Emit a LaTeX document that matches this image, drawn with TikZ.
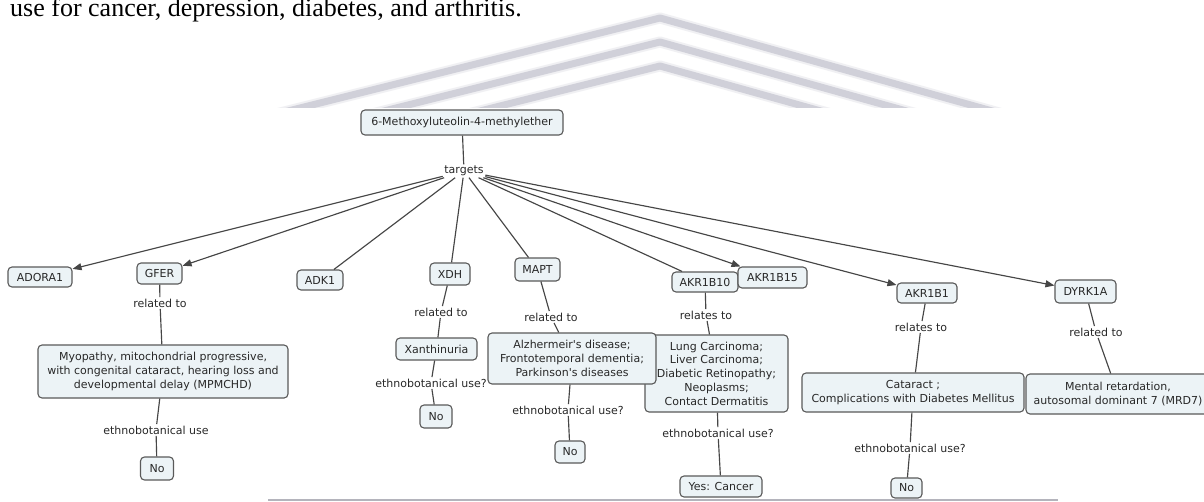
\documentclass[tikz,border=0pt]{standalone}
\usepackage{fontspec}
\newfontfamily\mapfont{DejaVu Sans}
\newfontfamily\pagefont{Liberation Serif}
\usetikzlibrary{arrows.meta}
\definecolor{boxfill}{RGB}{236,243,246}
\definecolor{boxline}{RGB}{90,90,90}
\definecolor{linkline}{RGB}{70,70,70}
\definecolor{maptext}{RGB}{40,40,40}
\definecolor{markgray}{RGB}{208,208,217}
\definecolor{rulegray}{RGB}{180,180,188}

\begin{document}
\begin{tikzpicture}[x=1pt,y=-1pt,
  concept/.style={draw=boxline, fill=boxfill, line width=1.1pt, rounded corners=4pt,
    inner sep=1pt, align=center, text=maptext, font=\mapfont\fontsize{11}{13.8}\selectfont},
  linklabel/.style={inner sep=1.5pt, text=maptext, font=\mapfont\fontsize{11}{13}\selectfont},
  link/.style={draw=linkline, line width=1.15pt},
  arrowlink/.style={link, -{Triangle[length=9pt,width=7pt]}},
  stripe/.style={markgray, line width=7pt, line join=round},
  stripehalo/.style={markgray, line width=11pt, line join=round, opacity=0.3},
]
\useasboundingbox (0,0) rectangle (1204,501);
\fill[white] (0,0) rectangle (1204,501);

% running text of the page above the figure
\node[anchor=base west, inner sep=0pt, text=black,
  font=\pagefont\fontsize{26}{30}\selectfont] (pageline) at (10,16)
  {use for cancer, depression, diabetes, and arthritis.};

% faint chevron mark behind the figure
\begin{scope}
  \clip (0,0) rectangle (1204,107.5);
  \foreach \dy in {0,24,48} {
    \draw[stripehalo] (240,{123+\dy}) -- (660,{18+\dy}) -- (1080,{135.6+\dy});
    \draw[stripe] (240,{123+\dy}) -- (660,{18+\dy}) -- (1080,{135.6+\dy});
  }
\end{scope}

% rule under the figure
\draw[rulegray, line width=2pt] (268,499.5) -- (1058,499.5);

% compound and its targets
\node[concept, minimum width=202pt, minimum height=25pt] (root) at (462,122.5) {6-Methoxyluteolin-4-methylether};
\node[linklabel] (targets) at (464,171) {targets};

\node[concept, minimum width=64pt, minimum height=20pt] (adora) at (40,277) {ADORA1};
\node[concept, minimum width=45pt, minimum height=21pt] (gfer) at (159.5,273.5) {GFER};
\node[concept, minimum width=46pt, minimum height=20pt] (adk) at (320,280) {ADK1};
\node[concept, minimum width=40pt, minimum height=22pt] (xdh) at (450,274) {XDH};
\node[concept, minimum width=45pt, minimum height=23pt] (mapt) at (537.5,269.5) {MAPT};
\node[concept, minimum width=66pt, minimum height=20pt] (akrten) at (705,282) {AKR1B10};
\node[concept, minimum width=69pt, minimum height=21pt] (akrfifteen) at (772.5,277.5) {AKR1B15};
\node[concept, minimum width=60pt, minimum height=20pt] (akrone) at (927,293) {AKR1B1};
\node[concept, minimum width=61pt, minimum height=23pt] (dyrk) at (1085.5,291.5) {DYRK1A};

% GFER branch
\node[linklabel] (relgfer) at (160,303) {related to};
\node[concept, minimum width=250pt, minimum height=53pt] (myo) at (163,371.5)
  {Myopathy, mitochondrial progressive,\\ with congenital cataract, hearing loss and\\ developmental delay (MPMCHD)};
\node[linklabel] (ethgfer) at (156,430) {ethnobotanical use};
\node[concept, minimum width=33pt, minimum height=23pt] (nogfer) at (157,468.5) {No};

% XDH branch
\node[linklabel] (relxdh) at (441,312) {related to};
\node[concept, minimum width=81pt, minimum height=22pt] (xan) at (436.5,349) {Xanthinuria};
\node[linklabel] (ethxdh) at (431,383) {ethnobotanical use?};
\node[concept, minimum width=32pt, minimum height=23pt] (noxdh) at (436,416.5) {No};

% AKR1B10 branch (drawn before the MAPT disease box, which overlaps it)
\node[linklabel] (relakr) at (706,315) {relates to};
\node[concept, minimum width=143pt, minimum height=77pt] (lung) at (716.5,373.5)
  {Lung Carcinoma;\\ Liver Carcinoma;\\ Diabetic Retinopathy;\\ Neoplasms;\\ Contact Dermatitis};
\node[linklabel] (ethakr) at (718,433) {ethnobotanical use?};
\node[concept, minimum width=82pt, minimum height=21pt] (yes) at (721,486.5) {Yes: Cancer};

% MAPT branch
\node[linklabel] (relmapt) at (551,317) {related to};
\node[concept, minimum width=168pt, minimum height=51pt] (alz) at (572,358.5)
  {Alzhermeir's disease;\\ Frontotemporal dementia;\\ Parkinson's diseases};
\node[linklabel] (ethmapt) at (568,410) {ethnobotanical use?};
\node[concept, minimum width=30pt, minimum height=22pt] (nomapt) at (570,452) {No};

% AKR1B1 branch
\node[linklabel] (relakrone) at (921,327) {relates to};
\node[concept, minimum width=222pt, minimum height=39pt] (cat) at (913,392.5)
  {Cataract ;\\ Complications with Diabetes Mellitus};
\node[linklabel] (ethakrone) at (910,448) {ethnobotanical use?};
\node[concept, minimum width=31pt, minimum height=20pt] (noakrone) at (906.5,488) {No};

% DYRK1A branch
\node[linklabel] (reldyrk) at (1096,332) {related to};
\node[concept, minimum width=184pt, minimum height=40pt] (mental) at (1118,394)
  {Mental retardation,\\ autosomal dominant 7 (MRD7)};

% connectors
\draw[link] (root) -- (targets);
\draw[arrowlink] (targets) -- (adora);
\draw[arrowlink] (targets) -- (gfer);
\draw[link] (targets) -- (adk);
\draw[link] (targets) -- (xdh);
\draw[link] (targets) -- (mapt);
\draw[link] (targets) -- (akrten);
\draw[arrowlink] (targets) -- (akrfifteen);
\draw[arrowlink] (targets) -- (akrone);
\draw[arrowlink] (targets) -- (dyrk);

\draw[link] (gfer) -- (relgfer);
\draw[link] (relgfer) -- (myo);
\draw[link] (myo) -- (ethgfer);
\draw[link] (ethgfer) -- (nogfer);

\draw[link] (xdh) -- (relxdh);
\draw[link] (relxdh) -- (xan);
\draw[link] (xan) -- (ethxdh);
\draw[link] (ethxdh) -- (noxdh);

\draw[link] (mapt) -- (relmapt);
\draw[link] (relmapt) -- (alz);
\draw[link] (alz) -- (ethmapt);
\draw[link] (ethmapt) -- (nomapt);

\draw[link] (akrten) -- (relakr);
\draw[link] (relakr) -- (lung);
\draw[link] (lung) -- (ethakr);
\draw[link] (ethakr) -- (yes);

\draw[link] (akrone) -- (relakrone);
\draw[link] (relakrone) -- (cat);
\draw[link] (cat) -- (ethakrone);
\draw[link] (ethakrone) -- (noakrone);

\draw[link] (dyrk) -- (reldyrk);
\draw[link] (reldyrk) -- (mental);
\end{tikzpicture}
\end{document}
